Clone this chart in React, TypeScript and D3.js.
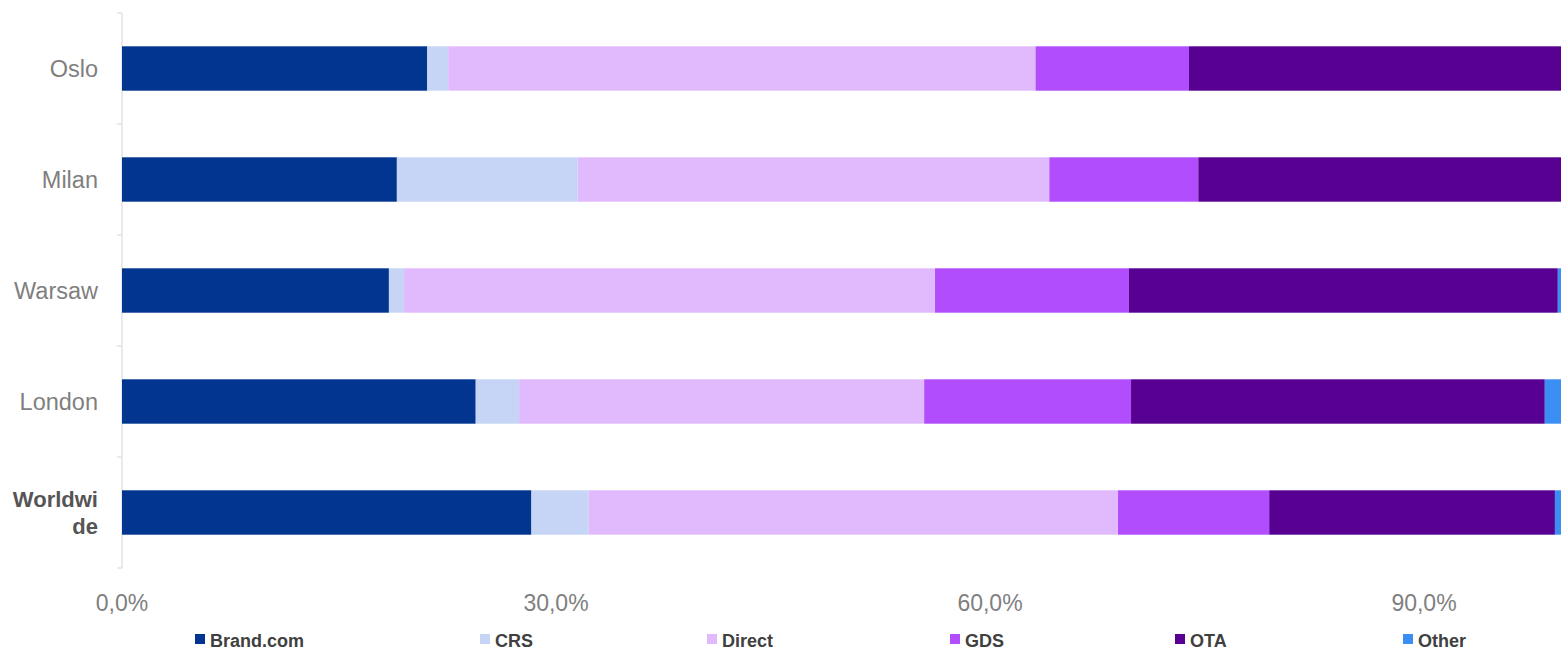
import React from "react";
import * as d3 from "d3";

const categories = ["Oslo", "Milan", "Warsaw", "London", "Worldwide"];
const seriesNames = ["Brand.com", "CRS", "Direct", "GDS", "OTA", "Other"];
const brandCom = [21.1, 19.0, 18.45, 24.45, 28.3];
const crs = [1.45, 12.5, 1.05, 3.0, 3.95];
const direct = [40.6, 32.6, 36.7, 28.0, 36.6];
const gds = [10.6, 10.3, 13.4, 14.3, 10.45];
const ota = [26.25, 25.6, 29.65, 28.6, 19.75];
const other = [0.0, 0.0, 0.75, 1.65, 0.95];
const xTicks = [0, 30, 60, 90];
const colors = ["#01358f", "#c6d4f6", "#e1b9fd", "#b24dfd", "#570091", "#3a8ef4"];
const legendX = [195, 480, 707, 950, 1175, 1403];

const W = 1561;
const H = 651;

export default function App() {
  const series = [brandCom, crs, direct, gds, ota, other];
  const x = d3.scaleLinear().domain([0, 30]).range([122, 556]);
  const y = d3.scaleBand<string>().domain(categories).range([13, 568]).padding(0);
  const bw = y.bandwidth();
  const rows = categories.map((c, i) => {
    const obj: any = { cat: c };
    seriesNames.forEach((s, j) => (obj[s] = series[j][i]));
    return obj;
  });
  const stacked = d3.stack<any>().keys(seriesNames)(rows);
  const fmt = (v: number) => d3.format(".1f")(v).replace(".", ",") + "%";
  const font = "'Liberation Sans', Arial, sans-serif";
  const boundaries = d3.range(categories.length + 1).map((i) => 13 + i * bw);

  return (
    <svg
      width={W}
      height={H}
      style={{ position: "absolute", left: 0, top: 0, background: "#fff" }}
      fontFamily={font}
    >
      <line x1={x(0)} x2={x(0)} y1={13} y2={568} stroke="#e3e3e3" strokeWidth={1.5} />
      {boundaries.map((b, i) => (
        <line key={i} x1={x(0) - 5} x2={x(0)} y1={b} y2={b} stroke="#e3e3e3" strokeWidth={1.5} />
      ))}
      {stacked.map((layer, j) => (
        <g key={layer.key} fill={colors[j]}>
          {layer.map((d, i) => (
            <rect
              key={i}
              x={x(d[0])}
              width={Math.max(0, x(d[1]) - x(d[0]))}
              y={(y(categories[i]) as number) + bw * 0.3}
              height={bw * 0.4}
            />
          ))}
        </g>
      ))}
      {categories.map((c) => {
        const cy = (y(c) as number) + bw / 2;
        if (c === "Worldwide") {
          return (
            <text key={c} x={98} textAnchor="end" fontSize={22} fontWeight="bold" fill="#555555">
              <tspan x={98} y={cy - 6}>Worldwi</tspan>
              <tspan x={98} y={cy + 21}>de</tspan>
            </text>
          );
        }
        return (
          <text key={c} x={98} y={cy + 8} textAnchor="end" fontSize={23.5} fill="#7f7f7f">
            {c}
          </text>
        );
      })}
      {xTicks.map((t) => (
        <text key={t} x={x(t)} y={611} textAnchor="middle" fontSize={23} fill="#7f7f7f">
          {fmt(t)}
        </text>
      ))}
      {seriesNames.map((s, j) => (
        <g key={s}>
          <rect x={legendX[j]} y={634} width={10} height={10} fill={colors[j]} />
          <text x={legendX[j] + 15} y={647} fontSize={18} fontWeight="bold" fill="#404040">
            {s}
          </text>
        </g>
      ))}
    </svg>
  );
}
